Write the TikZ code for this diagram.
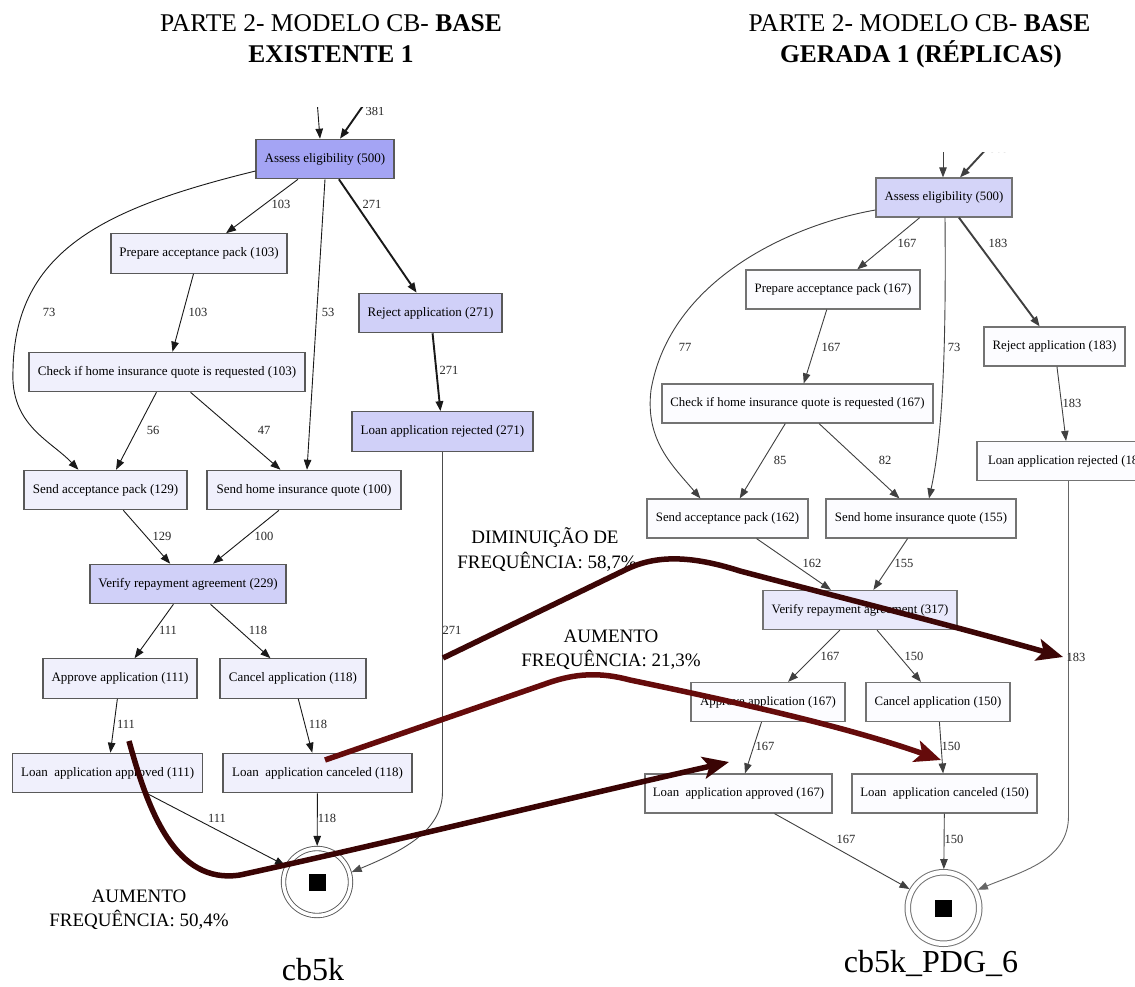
\documentclass[tikz,border=0pt]{standalone}
\usepackage{fontspec}
\setmainfont{Liberation Serif}
\usetikzlibrary{arrows.meta,calc}
\definecolor{lmid}{HTML}{A4A4F4}
\definecolor{lpale}{HTML}{D0D0F8}
\definecolor{llight}{HTML}{F0F0FC}
\definecolor{rmid}{HTML}{D4D4F8}
\definecolor{rpale}{HTML}{E9E9FB}
\definecolor{rlight}{HTML}{FCFCFF}
\definecolor{trendA}{HTML}{3C0606}
\definecolor{trendB}{HTML}{650B0B}
\definecolor{trendC}{HTML}{3A0404}
\tikzset{
  actL/.style={draw=black!65, line width=1.1pt, fill=llight, minimum height=39.5pt,
    inner sep=0pt, font=\fontsize{13}{15}\selectfont},
  actR/.style={draw=black!55, line width=1.2pt, fill=rlight, minimum height=39pt,
    inner sep=0pt, font=\fontsize{12.8}{15}\selectfont},
  flowL/.style={draw=black!90, line width=0.9pt, -{Triangle[length=10pt,width=7.5pt]}},
  flowR/.style={draw=black!75, line width=0.9pt, -{Triangle[length=10pt,width=7.5pt]}},
  heavy/.style={line width=1.9pt},
  cnt/.style={font=\fontsize{12.5}{14}\selectfont, text=black!85, inner sep=0pt},
  finalL/.style={circle, draw=black!65, line width=0.9pt, double=white,
    double distance=3.5pt, minimum size=67pt, outer sep=2.6pt, inner sep=0pt},
  finalR/.style={circle, draw=black!55, line width=1pt, double=white,
    double distance=4.5pt, minimum size=71.5pt, outer sep=3.2pt, inner sep=0pt},
  stopsq/.style={fill=black, minimum size=17pt, inner sep=0pt},
  hdr/.style={font=\fontsize{25.5}{30}\selectfont, anchor=base, inner sep=0pt},
  note/.style={font=\fontsize{19}{24}\selectfont, anchor=base, inner sep=0pt},
  modelname/.style={font=\fontsize{32}{36}\selectfont, anchor=base, inner sep=0pt},
  trend/.style={line width=5.5pt, line join=round,
    -{Stealth[length=26pt,width=22pt,inset=6pt]}},
}
\begin{document}
\begin{tikzpicture}[x=1pt,y=-1pt]
\clip (0,0) rectangle (1135,987);
\fill[white] (0,0) rectangle (1135,987);

% ---------- titles ----------
\node[hdr] (hdL1) at (331,32) {PARTE 2- MODELO CB- \textbf{BASE}};
\node[hdr] (hdL2) at (331,63) {\textbf{EXISTENTE 1}};
\node[hdr] (hdR1) at (919.5,32) {PARTE 2- MODELO CB- \textbf{BASE}};
\node[hdr] (hdR2) at (921,63) {\textbf{GERADA 1 (RÉPLICAS)}};

% ---------- model cb5k ----------
\begin{scope}
\clip (0,108) rectangle (560,987);
\node[actL, fill=lmid, minimum width=138pt] (aeL) at (325,159) {Assess eligibility (500)};
\node[actL, minimum width=176pt] (papL) at (199,253.5) {Prepare acceptance pack (103)};
\node[actL, fill=lpale, minimum width=143pt] (rejL) at (430.5,313) {Reject application (271)};
\node[actL, minimum width=276pt] (chkL) at (167,372) {Check if home insurance quote is requested (103)};
\node[actL, fill=lpale, minimum width=181pt] (lrejL) at (442.5,431.5) {Loan application rejected (271)};
\node[actL, minimum width=163pt] (sacL) at (105.5,490) {Send acceptance pack (129)};
\node[actL, minimum width=194pt] (shqL) at (304,490) {Send home insurance quote (100)};
\node[actL, fill=lpale, minimum width=196pt] (vraL) at (188,584) {Verify repayment agreement (229)};
\node[actL, minimum width=154pt] (apL) at (120,678.5) {Approve application (111)};
\node[actL, minimum width=146pt] (caL) at (293,678.5) {Cancel application (118)};
\node[actL, minimum width=190pt] (laaL) at (107.75,773) {Loan\ \ application approved (111)};
\node[actL, minimum width=189pt] (lacL) at (317.5,773) {Loan\ \ application canceled (118)};
\node[finalL] (endL) at (317,882) {};
\node[stopsq] (sqL) at (endL.center) {};

\coordinate (inL1) at (317,100);
\coordinate (inL2) at (367,100);
\draw[flowL] (inL1) -- ($(aeL.north)+(-5,0)$);
\draw[flowL, heavy] (inL2) -- ($(aeL.north)+(15,0)$);
\node[cnt] (cL0) at (375,111) {381};

\draw[flowL] (aeL) -- (papL);
\draw[flowL, heavy] (aeL) -- (rejL);
\draw[flowL] ($(aeL.west)+(0,12)$) .. controls (105,208) and (15,250) .. (13,370)
  .. controls (10,425) and (50,440) .. ($(sacL.north west)+(55,0)$);
\draw[flowL] (aeL.south) -- ($(shqL.north)+(3,0)$);
\draw[flowL] (papL) -- (chkL);
\draw[flowL, heavy] (rejL) -- (lrejL);
\draw[flowL] (chkL) -- (sacL);
\draw[flowL] (chkL) -- (shqL);
\draw[flowL] (sacL) -- (vraL);
\draw[flowL] (shqL) -- (vraL);
\draw[flowL] (vraL) -- (apL);
\draw[flowL] (vraL) -- (caL);
\draw[flowL] (apL) -- (laaL);
\draw[flowL] (caL) -- (lacL);
\draw[flowL] (laaL) -- (endL);
\draw[flowL] (lacL) -- (endL);
\draw[flowL, draw=black!70] (lrejL.south) -- ($(lrejL.south)+(0,340)$)
  .. controls ($(lrejL.south)+(0,380)$) and (400,852) .. (endL.16);

\node[cnt] (cL1) at (281,204) {103};
\node[cnt] (cL2) at (372,204) {271};
\node[cnt] (cL3) at (49,312) {73};
\node[cnt] (cL4) at (198,312) {103};
\node[cnt] (cL5) at (328,312) {53};
\node[cnt] (cL6) at (449,370) {271};
\node[cnt] (cL7) at (153,430) {56};
\node[cnt] (cL8) at (264,430) {47};
\node[cnt] (cL9) at (162,536) {129};
\node[cnt] (cL10) at (264,536) {100};
\node[cnt] (cL11) at (168,630) {111};
\node[cnt] (cL12) at (258,630) {118};
\node[cnt] (cL13) at (452,630) {271};
\node[cnt] (cL14) at (126,724) {111};
\node[cnt] (cL15) at (318,724) {118};
\node[cnt] (cL16) at (217,818) {111};
\node[cnt] (cL17) at (327,818) {118};
\end{scope}

% ---------- model cb5k_PDG_6 ----------
\begin{scope}
\clip (560,153) rectangle (1135,987);
\node[actR, fill=rmid, minimum width=136pt] (aeR) at (944,197.5) {Assess eligibility (500)};
\node[actR, minimum width=174pt] (papR) at (833,289.5) {Prepare acceptance pack (167)};
\node[actR, minimum width=141pt] (rejR) at (1054.5,346.5) {Reject application (183)};
\node[actR, minimum width=271pt] (chkR) at (797.5,403.5) {Check if home insurance quote is requested (167)};
\node[actR, minimum width=183pt] (lrejR) at (1068.5,461) {Loan application rejected (183)};
\node[actR, minimum width=161pt] (sacR) at (727.5,518.5) {Send acceptance pack (162)};
\node[actR, minimum width=190pt] (shqR) at (921,518.5) {Send home insurance quote (155)};
\node[actR, fill=rpale, minimum width=194pt] (vraR) at (860,610) {Verify repayment agreement (317)};
\node[actR, minimum width=154pt] (apR) at (768,702) {Approve application (167)};
\node[actR, minimum width=144pt] (caR) at (938,702) {Cancel application (150)};
\node[actR, minimum width=187pt] (laaR) at (738.5,793.5) {Loan\ \ application approved (167)};
\node[actR, minimum width=185pt] (lacR) at (944.5,793.5) {Loan\ \ application canceled (150)};
\node[finalR] (endR) at (943.5,908) {};
\node[stopsq] (sqR) at (endR.center) {};

\coordinate (inR1) at (943,145);
\coordinate (inR2) at (990,145);
\draw[flowR] (inR1) -- ($(aeR.north)+(-1,0)$);
\draw[flowR, heavy] (inR2) -- ($(aeR.north)+(16,0)$);
\node[cnt] (cR0) at (999,148) {383};

\draw[flowR] (aeR) -- (papR);
\draw[flowR, heavy] (aeR) -- (rejR);
\draw[flowR] ($(aeR.west)+(0,12.5)$) .. controls (790,225) and (670,280) .. (651,390)
  .. controls (645,440) and (672,465) .. ($(sacR.north west)+(54,0)$);
\draw[flowR] ($(aeR.south)+(1,0)$) .. controls (946,330) and (944,430) .. ($(shqR.north)+(8,0)$);
\draw[flowR] (papR) -- (chkR);
\draw[flowR] (rejR) -- (lrejR);
\draw[flowR] (chkR) -- (sacR);
\draw[flowR] (chkR) -- (shqR);
\draw[flowR] (sacR) -- (vraR);
\draw[flowR] (shqR) -- (vraR);
\draw[flowR] (vraR) -- (apR);
\draw[flowR] (vraR) -- (caR);
\draw[flowR] (apR) -- (laaR);
\draw[flowR] (caR) -- (lacR);
\draw[flowR] (laaR) -- (endR);
\draw[flowR] (lacR) -- (endR);
\draw[flowR, draw=black!60] (lrejR.south) -- ($(lrejR.south)+(0,335)$)
  .. controls ($(lrejR.south)+(0,380)$) and (1020,872) .. (endR.28);

\node[cnt] (cR1) at (907,243) {167};
\node[cnt] (cR2) at (998,243) {183};
\node[cnt] (cR3) at (685,347) {77};
\node[cnt] (cR4) at (831,347) {167};
\node[cnt] (cR5) at (954,347) {73};
\node[cnt] (cR6) at (1072,403) {183};
\node[cnt] (cR7) at (780,460) {85};
\node[cnt] (cR8) at (885,460) {82};
\node[cnt] (cR9) at (812,563) {162};
\node[cnt] (cR10) at (904,563) {155};
\node[cnt] (cR11) at (830,656) {167};
\node[cnt] (cR12) at (914,656) {150};
\node[cnt] (cR13) at (1076,657) {183};
\node[cnt] (cR14) at (765,746) {167};
\node[cnt] (cR15) at (951,746) {150};
\node[cnt] (cR16) at (846,839) {167};
\node[cnt] (cR17) at (954,839) {150};
\end{scope}

% ---------- model names ----------
\node[modelname] (mnL) at (313,980) {cb5k};
\node[modelname] (mnR) at (931,972) {cb5k\_PDG\_6};

% ---------- frequency notes ----------
\node[note] (ntA1) at (545,543) {DIMINUIÇÃO DE};
\node[note] (ntA2) at (547,568) {FREQUÊNCIA: 58,7\%};
\node[note] (ntB1) at (611,642) {AUMENTO};
\node[note] (ntB2) at (611,666) {FREQUÊNCIA: 21,3\%};
\node[note] (ntC1) at (139,902) {AUMENTO};
\node[note] (ntC2) at (139,926) {FREQUÊNCIA: 50,4\%};

% ---------- frequency change arrows ----------
\coordinate (trAs) at (443,658);
\coordinate (trAe) at (1063,657);
\coordinate (trBs) at (325,760);
\coordinate (trBe) at (941,760);
\coordinate (trCs) at (129,741);
\coordinate (trCe) at (729,762);
\draw[trend, draw=trendA] (trAs) -- (625,570)
  .. controls (655,555) and (690,555) .. (740,571)
  .. controls (850,600) and (950,625) .. (trAe);
\draw[trend, draw=trendB] (trBs) -- (545,684)
  .. controls (575,673) and (600,672) .. (630,680)
  .. controls (750,705) and (850,728) .. (trBe);
\draw[trend, draw=trendC] (trCs) .. controls (148,810) and (175,885) .. (240,875)
  .. controls (400,840) and (560,800) .. (trCe);
\end{tikzpicture}
\end{document}
